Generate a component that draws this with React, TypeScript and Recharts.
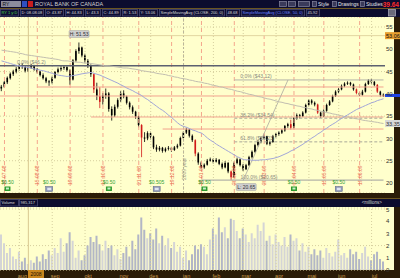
import React from "react";
import { Bar, Cell, ComposedChart, CartesianGrid, Line, ReferenceDot, ReferenceLine, XAxis, YAxis } from "recharts";

const opens = [
  41.2, 41.6, 42.6, 43.5, 44.4, 45.0, 45.6, 46.4, 46.0, 45.2, 45.9, 46.3, 45.5, 45.0, 44.2, 43.5, 42.8, 42.6, 43.6, 44.9,
  45.5, 45.8, 46.0, 45.3, 43.2, 47.5, 49.6, 50.4, 48.6, 47.4, 46.4, 44.4, 41.0, 39.5, 38.2, 39.6, 40.1, 36.6, 35.2, 37.1,
  38.6, 40.1, 39.4, 38.0, 37.0, 36.0, 34.9, 33.0, 30.2, 30.0, 31.2, 30.4, 28.0, 27.5, 27.9, 27.2, 27.7, 27.9, 27.4, 28.0,
  28.4, 30.1, 31.3, 32.0, 30.6, 29.6, 26.6, 24.6, 23.5, 24.1, 25.0, 25.3, 24.8, 25.2, 24.3, 23.5, 24.5, 22.6, 21.3, 24.5,
  25.3, 24.0, 23.1, 24.0, 25.8, 27.0, 28.5, 29.2, 30.1, 30.5, 28.8, 29.2, 30.5, 31.0, 31.3, 31.8, 32.8, 33.2, 32.4, 34.5,
  35.2, 35.0, 35.8, 37.5, 38.5, 38.0, 37.6, 35.8, 35.0, 36.2, 37.5, 38.3, 39.5, 40.5, 41.0, 41.8, 42.3, 42.5, 42.1, 41.0,
  40.2, 39.8, 40.5, 42.2, 43.0, 42.7, 42.0, 40.5, 39.8,
];
const highs = [
  42.0, 42.9, 43.9, 44.8, 45.4, 46.0, 46.8, 46.9, 46.3, 46.2, 46.7, 46.5, 45.8, 45.2, 44.6, 43.8, 43.1, 43.9, 45.1, 45.9,
  46.2, 46.4, 46.2, 45.5, 47.8, 50.0, 51.53, 50.6, 49.0, 47.8, 46.6, 44.6, 42.5, 41.5, 40.2, 41.2, 40.4, 37.2, 37.6, 39.0,
  40.6, 40.8, 39.6, 38.3, 37.4, 36.2, 35.1, 33.2, 31.4, 31.6, 31.5, 30.6, 28.6, 28.3, 28.1, 28.0, 28.3, 28.1, 28.3, 28.8,
  30.4, 31.6, 32.4, 32.2, 30.9, 29.8, 26.9, 24.9, 24.4, 25.4, 25.7, 25.5, 25.6, 25.4, 24.6, 24.9, 24.7, 22.8, 24.8, 25.7,
  25.5, 24.3, 24.3, 26.1, 27.3, 28.8, 29.6, 30.4, 30.9, 30.6, 29.5, 30.8, 31.2, 31.6, 32.1, 33.0, 33.5, 34.2, 34.8, 35.6,
  35.5, 36.1, 37.8, 38.8, 38.8, 38.3, 37.8, 36.0, 36.5, 37.8, 38.6, 39.8, 40.8, 41.3, 42.1, 42.6, 42.8, 42.7, 42.3, 41.2,
  40.4, 40.9, 42.5, 43.3, 43.4, 42.9, 42.2, 40.7, 40.1,
];
const lows = [
  40.6, 41.3, 42.2, 43.2, 44.0, 44.6, 45.2, 45.6, 44.8, 44.9, 45.6, 45.2, 44.6, 43.9, 43.2, 42.4, 41.8, 42.3, 43.4, 44.6,
  45.1, 45.4, 45.0, 42.0, 43.0, 47.2, 49.0, 48.2, 47.0, 45.8, 43.8, 40.2, 38.6, 36.8, 37.6, 38.9, 36.0, 34.0, 34.8, 36.7,
  38.2, 39.0, 37.6, 36.5, 35.5, 34.4, 32.5, 25.8, 29.2, 29.6, 29.8, 27.6, 27.0, 27.1, 26.8, 26.9, 27.3, 27.0, 27.2, 27.7,
  28.2, 29.8, 31.0, 30.2, 29.2, 26.0, 24.1, 23.0, 23.2, 23.9, 24.8, 24.4, 24.6, 24.0, 23.1, 23.3, 22.2, 20.65, 21.1, 24.2,
  23.7, 22.7, 22.9, 23.8, 25.5, 26.8, 28.2, 28.9, 29.8, 28.5, 28.4, 29.0, 30.2, 30.6, 31.0, 31.5, 32.4, 32.0, 32.2, 34.2,
  34.5, 34.8, 35.6, 37.2, 37.6, 37.2, 35.5, 34.6, 34.8, 36.0, 37.3, 38.1, 39.3, 40.2, 40.8, 41.5, 42.0, 41.8, 40.7, 39.9,
  39.5, 39.6, 40.3, 42.0, 42.3, 41.7, 40.2, 39.4, 39.3,
];
const closes = [
  41.6, 42.6, 43.6, 44.5, 45.0, 45.6, 46.4, 46.0, 45.2, 45.9, 46.3, 45.5, 45.0, 44.2, 43.5, 42.8, 42.6, 43.6, 44.9, 45.5,
  45.8, 46.0, 45.3, 43.0, 47.5, 49.6, 50.4, 48.6, 47.4, 46.4, 44.4, 41.0, 39.5, 38.2, 39.6, 40.1, 36.6, 35.2, 37.1, 38.6,
  40.1, 39.4, 38.0, 37.0, 36.0, 34.9, 33.0, 30.2, 30.0, 31.2, 30.4, 28.0, 27.5, 27.9, 27.2, 27.7, 27.9, 27.4, 28.0, 28.4,
  30.1, 31.3, 32.0, 30.6, 29.6, 26.6, 24.6, 23.5, 24.1, 25.0, 25.3, 24.8, 25.2, 24.3, 23.5, 24.5, 22.6, 21.3, 24.5, 25.3,
  24.0, 23.1, 24.0, 25.8, 27.0, 28.5, 29.2, 30.1, 30.5, 28.8, 29.2, 30.5, 31.0, 31.3, 31.8, 32.8, 33.2, 32.4, 34.5, 35.2,
  35.0, 35.8, 37.5, 38.5, 38.0, 37.6, 35.8, 35.0, 36.2, 37.5, 38.3, 39.5, 40.5, 41.0, 41.8, 42.3, 42.5, 42.1, 41.0, 40.2,
  39.8, 40.5, 42.2, 43.0, 42.7, 42.0, 40.5, 39.8, 39.64,
];
const volumes = [
  2.9, 2.2, 1.4, 1.8, 1.1, 0.9, 1.5, 0.7, 1.0, 0.5, 0.8, 0.6, 1.1, 0.7, 1.3, 0.9, 1.6, 1.2, 1.8, 1.4,
  2.6, 1.5, 2.2, 3.1, 2.4, 1.0, 1.6, 0.8, 1.2, 2.0, 2.7, 2.3, 2.8, 2.1, 1.6, 2.4, 1.8, 2.0, 1.2, 1.7,
  0.9, 1.4, 1.9, 1.1, 2.4, 1.7, 2.9, 4.3, 3.3, 2.6, 3.0, 2.5, 3.4, 2.2, 2.8, 2.0, 2.6, 1.8, 2.3, 1.5,
  1.9, 1.0, 1.6, 0.8, 1.3, 2.0, 1.7, 2.1, 1.9, 1.3, 2.5, 3.4, 2.9, 4.3, 3.1, 3.5, 2.6, 4.2, 4.1, 3.2,
  2.6, 3.4, 2.9, 2.3, 3.0, 2.6, 3.7, 3.2, 3.9, 2.4, 2.8, 2.1, 2.9, 2.3, 2.0, 2.7, 1.9, 2.9, 2.4, 2.6,
  1.6, 2.2, 1.5, 1.9, 1.3, 1.7, 1.2, 1.6, 1.0, 1.8, 1.4, 1.1, 1.5, 2.5, 1.2, 1.4, 1.0, 1.7, 1.3, 1.5,
  0.9, 1.4, 1.9, 1.1, 0.8, 1.3, 1.5, 0.9, 0.7,
];
const sma50 = [
  47.4, 47.2, 47.0, 46.8, 46.6, 46.4, 46.3, 46.1, 46.0, 45.9, 45.8, 45.6, 45.5, 45.3, 45.2, 45.0, 44.8, 44.6, 44.4, 44.2,
  44.1, 44.0, 43.9, 44.0, 44.1, 44.2, 44.35, 44.5, 44.6, 44.7, 44.8, 44.6, 44.4, 44.2, 43.9, 43.6, 43.3, 43.0, 42.7, 42.4,
  42.0, 41.7, 41.3, 41.0, 40.7, 40.3, 40.0, 39.6, 39.1, 38.7, 38.2, 37.7, 37.2, 36.7, 36.3, 35.8, 35.2, 34.7, 34.1, 33.5,
  33.0, 32.7, 32.5, 32.2, 31.9, 31.7, 31.4, 31.2, 30.7, 30.1, 29.6, 29.2, 28.7, 28.3, 27.9, 27.5, 27.1, 26.7, 26.3, 25.9,
  25.6, 25.3, 25.2, 25.2, 25.1, 25.1, 25.1, 25.2, 25.2, 25.3, 25.4, 25.5, 25.7, 25.9, 26.2, 26.5, 26.8, 27.2, 27.5, 27.9,
  28.3, 28.7, 29.2, 29.6, 30.1, 30.5, 31.0, 31.4, 31.9, 32.3, 32.8, 33.2, 33.6, 34.1, 34.5, 34.9, 35.3, 35.7, 36.1, 36.5,
  36.8, 37.1, 37.4, 37.7, 38.0, 38.2, 38.5, 38.7, 38.9,
];
const sma200 = [
  49.8, 49.7, 49.6, 49.5, 49.4, 49.3, 49.1, 49.0, 48.8, 48.68, 48.6, 48.5, 48.4, 48.3, 48.2, 48.1, 48.0, 47.9, 47.8, 47.7,
  47.5, 47.4, 47.4, 47.3, 47.2, 47.1, 47.1, 47.0, 46.9, 46.9, 46.8, 46.7, 46.6, 46.5, 46.4, 46.3, 46.3, 46.2, 46.1, 46.0,
  45.9, 45.8, 45.8, 45.7, 45.6, 45.5, 45.4, 45.2, 45.1, 45.0, 44.9, 44.8, 44.6, 44.5, 44.4, 44.3, 44.1, 44.0, 43.8, 43.7,
  43.5, 43.4, 43.3, 43.1, 43.0, 42.8, 42.7, 42.6, 42.4, 42.3, 42.1, 41.9, 41.8, 41.6, 41.5, 41.3, 41.1, 41.0, 40.8, 40.6,
  40.5, 40.3, 40.1, 39.9, 39.8, 39.6, 39.4, 39.3, 39.1, 38.9, 38.8, 38.6, 38.4, 38.2, 38.1, 37.9, 37.8, 37.6, 37.5, 37.3,
  37.2, 37.0, 36.9, 36.7, 36.6, 36.4, 36.3, 36.1, 36.0, 35.8, 35.7, 35.5, 35.4, 35.2, 35.1, 34.9, 34.8, 34.7, 34.5, 34.4,
  34.3, 34.1, 34.0, 33.9, 33.8, 33.7, 33.6, 33.45, 33.35,
];
const redBars = [31, 33, 47, 65, 77, 97, 106, 119, 126];

const monthIdx = [6, 17, 28, 40, 50, 61, 71, 81, 92, 103, 113, 124];
const monthLabels = ["aug", "sep", "okt", "nov", "des", "jan", "feb", "mar", "apr", "mai", "jun", "jul"];
const expiryIdx = [1, 12, 23, 34, 46, 57, 67, 78, 88, 98, 108, 120];
const expiryLabels = ["18.07.08", "15.08.08", "19.09.08", "17.10.08", "21.11.08", "19.12.08", "16.01.09", "20.02.09", "20.03.09", "17.04.09", "15.05.09", "19.06.09"];
const priceTicks = [20, 25, 30, 35, 40, 45, 50, 55];
const volTicks = [0, 1, 2, 3, 4, 5];

const redLevels = [41.54, 34.81, 32.11];
const redStarts = [12, 30, 54];
const redFull = 39.52;
const darkLevel = 46.3;
const fibLevels = [43.12, 34.54, 29.23, 20.65];
const fibNames = ["0.0% ($43.12)", "38.2% ($34.54)", "61.8% ($29.23)", "100.0% ($20.65)"];
const fibStart = 78;
const cursorIdx = 9;
const cursorPrice = 53.06;
const lastPrice = 39.64;
const sma200Last = 33.35;

const eventIdx = [2, 16, 36, 52, 68, 98, 113];
const eventTexts = ["$0.50", "$0.50", "$0.50", "$0.505", "$0.50", "$0.50", "$0.50"];
const eventKinds = ["div", "earn", "div", "earn", "div", "div", "earn"];

// header fields: text, box left, box width
const infoTexts = ["RY 1 y:D", "D: 08.08.08", "O: 43.87", "H: 44.83", "L: 43.3", "C: 44.89", "R: 1.53", "Y: 53.06", "SimpleMovingAvg (CLOSE, 200, 0)", "48.68", "SimpleMovingAvg (CLOSE, 50, 0)", "45.92"];
const infoLeft = [0, 20, 45, 65, 85, 102, 122, 139, 159, 226, 241, 306];
const infoWidth = [19, 24, 19, 19, 16, 19, 16, 19, 66, 14, 64, 14];

const data = closes.map((c, i) => ({
  i,
  open: opens[i],
  high: highs[i],
  low: lows[i],
  close: c,
  range: [lows[i], highs[i]],
  vol: volumes[i],
  sma50: sma50[i],
  sma200: sma200[i],
  red: redBars.includes(i),
}));

const FONT = "'Liberation Sans', Arial, sans-serif";
const YELLOW = "#ffffcc";
const NAVY = "#0c0c2e";
const BROWN = "#2a1c08";

// small svg text; drawn at 10px and scaled so the browser minimum font size does not kick in
function T({ x, y, size, fill, anchor, weight, rotate, children }: any) {
  const s = size / 10;
  const tr = `translate(${x} ${y})${rotate ? ` rotate(${rotate})` : ""} scale(${s})`;
  return (
    <text transform={tr} fontSize={10} fill={fill} textAnchor={anchor || "start"} fontWeight={weight} fontFamily={FONT}>
      {children}
    </text>
  );
}

function Candle(props: any) {
  const { x, y, width, height, payload } = props;
  if (payload == null) return null;
  const top = Math.min(y, y + height);
  const h = Math.abs(height);
  const ppu = h / (payload.high - payload.low || 1);
  const cx = x + width / 2;
  const bTop = top + (payload.high - Math.max(payload.open, payload.close)) * ppu;
  const bBot = top + (payload.high - Math.min(payload.open, payload.close)) * ppu;
  const color = payload.red ? "#d01818" : "#000";
  return (
    <g>
      <line x1={cx} x2={cx} y1={top} y2={top + h} stroke={color} strokeWidth={0.8} />
      <rect x={cx - 0.8} y={bTop} width={1.6} height={Math.max(1, bBot - bTop)} fill={color} />
    </g>
  );
}

function AxisTag({ viewBox, text, bg, color, h = 7 }: any) {
  if (!viewBox) return null;
  const x = viewBox.x + viewBox.width;
  const y = viewBox.y;
  return (
    <g>
      <rect x={x} y={y - h / 2} width={15} height={h} fill={bg} />
      {text ? (
        <T x={x + 1} y={y + 2} size={5.5} fill={color}>
          {text}
        </T>
      ) : null}
    </g>
  );
}

function FibText({ viewBox, text, dx = 6 }: any) {
  if (!viewBox) return null;
  return (
    <T x={viewBox.x + dx} y={viewBox.y - 1.5} size={5} fill="#8a8a80">
      {text}
    </T>
  );
}

function VText({ viewBox, text, color, bottom }: any) {
  if (!viewBox) return null;
  return (
    <T x={viewBox.x + 2} y={bottom} size={5} fill={color} rotate={-90}>
      {text}
    </T>
  );
}

function TagBox({ cx, cy, text }: any) {
  return (
    <g>
      <rect x={cx - 10} y={cy - 3.5} width={20} height={7} rx={1} fill="#cfcfcf" stroke="#a0a0a0" strokeWidth={0.5} />
      <T x={cx} y={cy + 2} size={5} anchor="middle" fill="#303030">
        {text}
      </T>
    </g>
  );
}

function EventMark({ cx, cy, text, kind }: any) {
  return (
    <g>
      <T x={cx} y={cy - 4} size={5} anchor="middle" fill="#34a034">
        {text}
      </T>
      {kind === "div" ? (
        <g>
          <rect x={cx - 3} y={cy - 2} width={6} height={4.5} fill="#2f9a2f" />
          <rect x={cx - 1.5} y={cy - 1} width={3} height={2} fill="#c8f0c8" />
        </g>
      ) : (
        <g>
          <rect x={cx - 3.5} y={cy - 2} width={7} height={5} fill="#8e98b8" stroke="#5a6488" strokeWidth={0.5} />
          <rect x={cx - 2} y={cy - 0.8} width={4} height={2.5} fill="#e0e4f0" />
        </g>
      )}
    </g>
  );
}

function MonthTick({ x, y, payload }: any) {
  const k = monthIdx.indexOf(payload.value);
  return (
    <T x={x + 3} y={y + 6} size={5.5} anchor="middle" fill="#c99a4c">
      {monthLabels[k]}
    </T>
  );
}

function Header() {
  return (
    <svg width={400} height={17} style={{ position: "absolute", left: 0, top: 0 }}>
      <rect x={0} y={0} width={400} height={17} fill={NAVY} />
      <rect x={0} y={8} width={400} height={1} fill="#6b5520" />
      <rect x={1} y={1} width={20} height={6} fill="#8c8c9c" />
      <T x={2.5} y={6} size={5} fill="#111">RY</T>
      <rect x={22} y={1} width={5} height={6} fill="#2f4fc0" />
      <rect x={28} y={1} width={5} height={6} fill="#c81e1e" />
      <T x={35} y={6} size={5.5} fill="#d0d0d0">ROYAL BANK OF CANADA</T>
      <rect x={279.5} y={1.5} width={7} height={5} fill="#3a3a5a" stroke="#8888a0" strokeWidth={0.7} />
      <rect x={288.5} y={1.5} width={7} height={5} fill="#3a3a5a" stroke="#8888a0" strokeWidth={0.7} />
      <rect x={298.5} y={1.5} width={11} height={5} fill="#3a3a5a" stroke="#8888a0" strokeWidth={0.7} />
      <rect x={312.5} y={1.5} width={4} height={5} fill="#3a3a5a" stroke="#8888a0" strokeWidth={0.7} />
      <T x={318} y={6} size={5} fill="#e8e8e8">Style</T>
      <rect x={332.5} y={1.5} width={4} height={5} fill="#3a3a5a" stroke="#8888a0" strokeWidth={0.7} />
      <T x={338} y={6} size={5} fill="#e8e8e8">Drawings</T>
      <rect x={360.5} y={1.5} width={4} height={5} fill="#3a3a5a" stroke="#8888a0" strokeWidth={0.7} />
      <T x={366} y={6} size={5} fill="#e8e8e8">Studies</T>
      <T x={399} y={6.5} size={6.5} weight={700} anchor="end" fill="#ff2a2a">39.64</T>
      {infoTexts.map((t, k) => (
        <g key={`h${k}`}>
          <rect x={infoLeft[k] + 0.5} y={9.5} width={infoWidth[k] - 1} height={6.5} fill="#101034" stroke="#4a4a70" strokeWidth={0.8} />
          <T x={infoLeft[k] + 1.5} y={14.4} size={4} fill={k === 0 ? "#46d046" : k === 10 ? "#6a82ff" : "#d8d8d8"}>
            {t}
          </T>
        </g>
      ))}
      <rect x={388.5} y={9.5} width={7} height={6.5} fill="#6a6a7a" stroke="#b0b0c0" strokeWidth={0.7} />
    </svg>
  );
}

function VolumeHeader() {
  return (
    <svg width={400} height={9} style={{ position: "absolute", left: 0, top: 198 }}>
      <rect x={0} y={0} width={400} height={9} fill={NAVY} />
      <rect x={0} y={0} width={400} height={1} fill="#6b5520" />
      <rect x={0.5} y={1.5} width={18} height={6.5} fill="none" stroke="#4a4a70" strokeWidth={0.8} />
      <T x={1.5} y={6.4} size={4} fill="#d8d8d8">Volume</T>
      <rect x={19.5} y={1.5} width={18} height={6.5} fill="none" stroke="#4a4a70" strokeWidth={0.8} />
      <T x={20.5} y={6.4} size={4} fill="#d8d8d8">985,317</T>
      <T x={382} y={6.4} size={4.5} anchor="end" fill="#d0d0d0">&lt;millions&gt;</T>
    </svg>
  );
}

export default function App() {
  return (
    <div style={{ position: "absolute", left: 0, top: 0, width: 400, height: 278, background: BROWN, overflow: "hidden", fontFamily: FONT }}>
      <Header />

      {/* panel backgrounds */}
      <div style={{ position: "absolute", left: 0, top: 17, width: 394, height: 176, background: YELLOW }} />
      <VolumeHeader />
      <div style={{ position: "absolute", left: 0, top: 207, width: 394, height: 63, background: YELLOW }} />

      {/* price panel */}
      <ComposedChart width={400} height={176} data={data} margin={{ top: 0, right: 0, bottom: 0, left: 0 }} style={{ position: "absolute", left: 0, top: 17 }}>
        <CartesianGrid vertical={false} stroke="#d6cf9e" strokeDasharray="1 2" />
        <XAxis dataKey="i" hide />
        <YAxis
          orientation="right"
          width={15}
          domain={[17.76, 57.24]}
          ticks={priceTicks}
          allowDataOverflow
          axisLine={false}
          tickLine={false}
          tickSize={0}
          tickMargin={1}
          tick={{ fontSize: 6, fill: "#303030", fontFamily: FONT }}
        />
        {monthIdx.map((m) => (
          <ReferenceLine key={`m${m}`} x={m} stroke="#d6cf9e" strokeDasharray="1 2" />
        ))}
        {expiryIdx.map((e, k) => (
          <ReferenceLine key={`e${e}`} x={e} stroke="#f4a68c" strokeDasharray="4 3" label={<VText text={expiryLabels[k]} color="#e86a50" bottom={168} />} />
        ))}
        <ReferenceLine x={61} stroke="#b8b49a" strokeDasharray="2 2" label={<VText text="2009 year" color="#9a9680" bottom={163} />} />
        <ReferenceLine y={cursorPrice} stroke="#e2d6a0" label={<AxisTag text="53.06" bg="#e8a030" color="#101010" />} />
        <ReferenceLine x={cursorIdx} stroke="#d8c890" />
        <ReferenceLine y={redFull} stroke="#f2a28e" />
        {redLevels.map((lv, k) => (
          <ReferenceLine key={`r${k}`} segment={[{ x: redStarts[k], y: lv }, { x: 128, y: lv }]} stroke="#f2a28e" />
        ))}
        <ReferenceLine y={darkLevel} stroke="#5c6070" strokeWidth={1.3} label={<FibText text="0.0% ($46.2)" dx={17} />} />
        {fibLevels.map((lv, k) => (
          <ReferenceLine
            key={`f${k}`}
            segment={[{ x: k === 3 ? 67 : fibStart, y: lv }, { x: 128, y: lv }]}
            stroke={k === 0 || k === 3 ? "#b4b4a8" : "#a8a898"}
            strokeWidth={k === 3 ? 1.3 : 1}
            strokeDasharray={k === 1 || k === 2 ? "3 2" : undefined}
            label={<FibText text={fibNames[k]} dx={k === 3 ? 39 : 6} />}
          />
        ))}
        <ReferenceLine segment={[{ x: 81, y: 20.65 }, { x: 96, y: 43.12 }]} stroke="#aaa8a0" strokeWidth={0.8} />
        <ReferenceLine y={sma200Last} stroke="transparent" label={<AxisTag text="33.35" bg="#d8d8d8" color="#303030" />} />
        <ReferenceLine y={lastPrice} stroke="transparent" label={<AxisTag text="" bg="#1e44e8" color="#fff" h={3} />} />
        <Line dataKey="sma200" stroke="#c2beb0" strokeWidth={1} dot={false} type="monotone" isAnimationActive={false} />
        <Line dataKey="sma50" stroke="#a2a6d8" strokeWidth={1} dot={false} type="monotone" isAnimationActive={false} />
        <Bar dataKey="range" shape={(p: any) => <Candle {...p} />} isAnimationActive={false} />
        <ReferenceDot x={26} y={53.43} r={0} shape={(p: any) => <TagBox {...p} text="H: 51.53" />} />
        <ReferenceDot x={82} y={19.1} r={0} shape={(p: any) => <TagBox {...p} text="L: 20.65" />} />
        {eventIdx.map((ev, k) => (
          <ReferenceDot key={`ev${ev}`} x={ev} y={18.77} r={0} shape={(p: any) => <EventMark {...p} text={eventTexts[k]} kind={eventKinds[k]} />} />
        ))}
      </ComposedChart>

      {/* volume panel */}
      <ComposedChart width={400} height={71} data={data} margin={{ top: 0, right: 0, bottom: 0, left: 0 }} style={{ position: "absolute", left: 0, top: 207 }}>
        <CartesianGrid vertical={false} stroke="#d6cf9e" strokeDasharray="1 2" />
        {monthIdx.map((m) => (
          <ReferenceLine key={`vm${m}`} x={m} stroke="#d6cf9e" strokeDasharray="1 2" />
        ))}
        <ReferenceLine x={cursorIdx} stroke="#d8c890" />
        <XAxis dataKey="i" height={8} ticks={monthIdx} interval={0} axisLine={false} tickLine={false} tickSize={0} tick={<MonthTick />} />
        <YAxis
          orientation="right"
          width={15}
          domain={[0, 5.16]}
          ticks={volTicks}
          allowDataOverflow
          axisLine={false}
          tickLine={false}
          tickSize={0}
          tickMargin={1}
          tick={{ fontSize: 6, fill: "#303030", fontFamily: FONT }}
        />
        <Bar dataKey="vol" barSize={2} isAnimationActive={false}>
          {data.map((d) => (
            <Cell key={`c${d.i}`} fill={d.close >= d.open ? "#d4d4d6" : "#b2b6c6"} />
          ))}
        </Bar>
      </ComposedChart>
      <svg width={16} height={8} style={{ position: "absolute", left: 28, top: 270 }}>
        <rect x={0} y={0} width={16} height={8} fill="#c8861e" />
        <T x={8} y={6} size={5} anchor="middle" fill="#1a1000">2008</T>
      </svg>
    </div>
  );
}
